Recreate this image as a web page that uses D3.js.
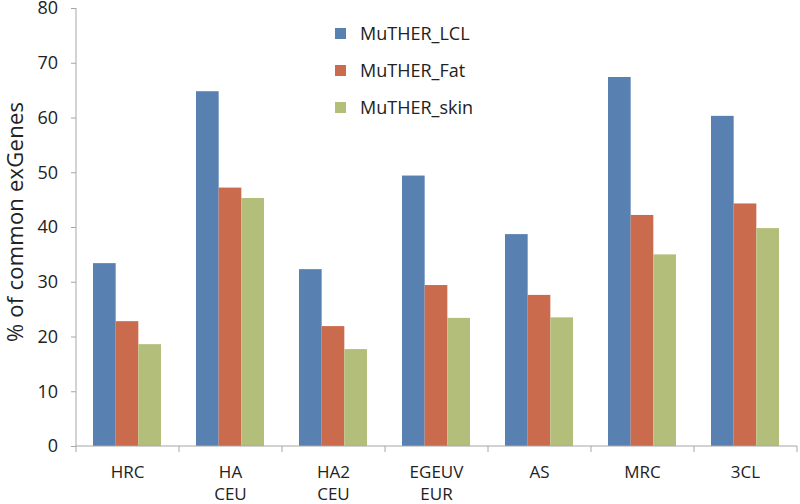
<!DOCTYPE html>
<html><head><meta charset="utf-8">
<script src="https://cdn.jsdelivr.net/npm/d3@7"></script>
<style>body{margin:0;background:#fff}svg{display:block}</style>
</head><body>
<svg id="c" width="800" height="504"></svg>
<script>
const categories = [["HRC"],["HA","CEU"],["HA2","CEU"],["EGEUV","EUR"],["AS"],["MRC"],["3CL"]];
const seriesNames = ["MuTHER_LCL","MuTHER_Fat","MuTHER_skin"];
const lcl  = [33.4, 64.8, 32.3, 49.4, 38.7, 67.4, 60.3];
const fat  = [22.8, 47.2, 21.9, 29.4, 27.6, 42.2, 44.3];
const skin = [18.6, 45.3, 17.7, 23.4, 23.5, 35.0, 39.8];
const yTicks = [0,10,20,30,40,50,60,70,80];
const colors = ["#5880B0","#CB6B4D","#B3BE7B"];

(function(){
const svg = d3.select("#c");
const mL = 76, mR = 797, mT = 8, mB = 446;
const keys = categories.map((c,i)=>i);
const x0 = d3.scaleBand().domain(keys).range([mL,mR]).padding(0);
const x1 = d3.scaleBand().domain([0,1,2]).range([17, x0.bandwidth()-18]).padding(0);
const y = d3.scaleLinear().domain([0,80]).range([mB,mT]);
const series = [lcl, fat, skin];
const font = "'Open Sans', 'DejaVu Sans', sans-serif";

const g = svg.append("g");
keys.forEach(i=>{
  series.forEach((s,j)=>{
    g.append("rect")
      .attr("x", x0(i)+x1(j))
      .attr("y", y(s[i]))
      .attr("width", x1.bandwidth())
      .attr("height", y(0)-y(s[i]))
      .attr("fill", colors[j]);
  });
});

const ya = svg.append("g").attr("transform",`translate(${mL},0)`)
  .call(d3.axisLeft(y).tickValues(yTicks).tickSize(5).tickPadding(13));
ya.select(".domain").attr("stroke","#A6A6A6").attr("d",`M0,${mT}V${mB}`);
ya.selectAll(".tick line").attr("stroke","#A6A6A6");
ya.selectAll(".tick text").attr("font-family",font).attr("font-size",18).attr("fill","#222");

const xa = svg.append("g").attr("transform",`translate(0,${mB})`);
xa.append("line").attr("x1",mL).attr("x2",mR).attr("stroke","#A6A6A6");
keys.concat([keys.length]).forEach(i=>{
  const xx = i<keys.length ? x0(i) : mR;
  xa.append("line").attr("x1",xx).attr("x2",xx).attr("y1",0).attr("y2",6).attr("stroke","#A6A6A6");
});
keys.forEach(i=>{
  const t = xa.append("text").attr("text-anchor","middle")
    .attr("font-family",font).attr("font-size",17).attr("fill","#222");
  categories[i].forEach((line,k)=>{
    t.append("tspan").attr("x", x0(i)+x0.bandwidth()/2).attr("y", 32+k*22).text(line);
  });
});

svg.append("text").attr("transform",`translate(23,222) rotate(-90)`)
  .attr("text-anchor","middle").attr("font-family",font).attr("font-size",22).attr("fill","#222")
  .attr("textLength",240).attr("lengthAdjust","spacing")
  .text("% of common exGenes");

const lg = svg.append("g").attr("transform","translate(335,0)");
seriesNames.forEach((n,j)=>{
  const cy = 33 + j*37;
  lg.append("rect").attr("x",0).attr("y",cy-5).attr("width",11).attr("height",11).attr("fill",colors[j]);
  lg.append("text").attr("x",25).attr("y",cy+1).attr("dy","0.35em")
    .attr("font-family",font).attr("font-size",18).attr("fill","#222").text(n);
});
})();
</script>
</body></html>
